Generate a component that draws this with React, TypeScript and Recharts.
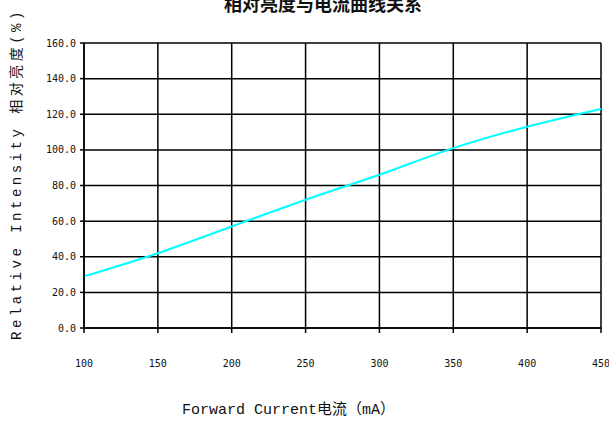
import { LineChart, Line, XAxis, YAxis, CartesianGrid } from "recharts";

const currents = [100, 150, 200, 250, 300, 350, 400, 450];
const intensity = [29, 42, 57, 72, 86, 101, 113, 123];
const xTicks = [100, 150, 200, 250, 300, 350, 400, 450];
const yTicks = [0, 20, 40, 60, 80, 100, 120, 140, 160];

const data = currents.map((c, i) => ({ current: c, value: intensity[i] }));

const tickStyle = { fontFamily: "'DejaVu Sans Mono', monospace", fontSize: 10, fill: "#111" };

export default function App() {
  return (
    <div style={{ position: "absolute", left: 0, top: 0, width: 609, height: 423, background: "#fff", overflow: "hidden" }}>
      <LineChart width={609} height={423} data={data} margin={{ top: 43, right: 8, bottom: 0, left: 0 }}>
        <CartesianGrid stroke="#000" strokeWidth={1.5} horizontalValues={yTicks} verticalValues={xTicks} />
        <XAxis
          dataKey="current"
          type="number"
          domain={[100, 450]}
          ticks={xTicks}
          height={95}
          stroke="#000"
          strokeWidth={1.5}
          tickSize={5}
          tickMargin={27}
          tick={tickStyle}
          interval={0}
        />
        <YAxis
          type="number"
          domain={[0, 160]}
          ticks={yTicks}
          width={84}
          stroke="#000"
          strokeWidth={1.5}
          tickSize={4}
          tickMargin={4}
          tick={tickStyle}
          tickFormatter={(v) => Number(v).toFixed(1)}
          interval={0}
        />
        <Line
          type="monotone"
          dataKey="value"
          stroke="#00ffff"
          strokeWidth={2}
          dot={false}
          isAnimationActive={false}
        />
      </LineChart>
      <div
        style={{
          position: "absolute",
          left: 323,
          top: -8,
          transform: "translateX(-50%)",
          whiteSpace: "nowrap",
          fontFamily: "'Noto Sans CJK SC', sans-serif",
          fontWeight: 700,
          fontSize: 18,
          lineHeight: "22px",
          color: "#111",
        }}
      >
        相对亮度与电流曲线关系
      </div>
      <div
        style={{
          position: "absolute",
          left: 17,
          top: 174,
          transform: "translate(-50%, -50%) rotate(-90deg)",
          whiteSpace: "nowrap",
          fontFamily: "'Liberation Mono', 'Noto Sans CJK SC', monospace",
          fontSize: 14,
          lineHeight: "16px",
          letterSpacing: 3.5,
          color: "#111",
        }}
      >
        Relative Intensity 相对亮度(%)
      </div>
      <div
        style={{
          position: "absolute",
          left: 182,
          top: 401,
          whiteSpace: "nowrap",
          fontFamily: "'Liberation Mono', 'Noto Sans CJK SC', monospace",
          fontSize: 15,
          lineHeight: "20px",
          color: "#111",
        }}
      >
        Forward Current电流（mA）
      </div>
    </div>
  );
}
